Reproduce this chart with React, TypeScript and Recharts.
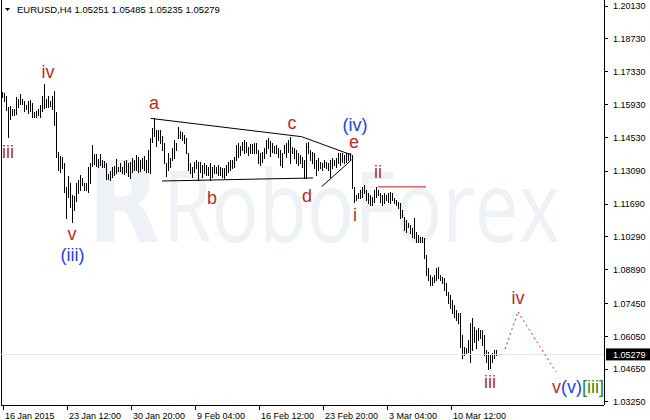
import React from 'react';
import { ComposedChart, Bar, XAxis, YAxis, ReferenceLine, ReferenceDot } from 'recharts';

// EURUSD H4 bars (high / low per bar)
const barHigh = [
  1.1646, 1.1642, 1.1629, 1.1582, 1.1586, 1.1574, 1.1574, 1.1625, 1.1616, 1.1638, 1.1616, 1.1608, 1.1591, 1.1608, 1.1612, 1.1599,
  1.1561, 1.1566, 1.1574, 1.1591, 1.1629, 1.1681, 1.1616, 1.1629, 1.1608, 1.1629, 1.1651, 1.1561, 1.1391, 1.1374, 1.1369, 1.1344,
  1.1242, 1.1288, 1.1259, 1.1208, 1.1203, 1.1259, 1.1271, 1.1293, 1.1280, 1.1259, 1.1259, 1.1327, 1.1344, 1.1421, 1.1382, 1.1382,
  1.1361, 1.1382, 1.1357, 1.1353, 1.1344, 1.1297, 1.1310, 1.1327, 1.1331, 1.1361, 1.1327, 1.1344, 1.1327, 1.1353, 1.1357, 1.1344,
  1.1348, 1.1365, 1.1357, 1.1378, 1.1369, 1.1357, 1.1365, 1.1374, 1.1357, 1.1399, 1.1451, 1.1494, 1.1536, 1.1485, 1.1485, 1.1485,
  1.1459, 1.1429, 1.1344, 1.1386, 1.1365, 1.1408, 1.1442, 1.1429, 1.1498, 1.1481, 1.1476, 1.1464, 1.1451, 1.1386, 1.1344, 1.1327,
  1.1348, 1.1357, 1.1348, 1.1348, 1.1336, 1.1344, 1.1336, 1.1327, 1.1344, 1.1327, 1.1336, 1.1327, 1.1336, 1.1327, 1.1322, 1.1322,
  1.1336, 1.1348, 1.1357, 1.1357, 1.1369, 1.1421, 1.1429, 1.1416, 1.1433, 1.1442, 1.1433, 1.1412, 1.1425, 1.1425, 1.1429, 1.1429,
  1.1399, 1.1386, 1.1391, 1.1408, 1.1442, 1.1451, 1.1438, 1.1429, 1.1416, 1.1421, 1.1408, 1.1399, 1.1386, 1.1421, 1.1429, 1.1442,
  1.1455, 1.1412, 1.1408, 1.1399, 1.1386, 1.1378, 1.1369, 1.1357, 1.1429, 1.1433, 1.1399, 1.1391, 1.1386, 1.1357, 1.1365, 1.1348,
  1.1344, 1.1357, 1.1348, 1.1344, 1.1357, 1.1365, 1.1357, 1.1365, 1.1386, 1.1386, 1.1386, 1.1378, 1.1386, 1.1386, 1.1386, 1.1378,
  1.1242, 1.1208, 1.1216, 1.1229, 1.1242, 1.1250, 1.1229, 1.1216, 1.1208, 1.1199, 1.1229, 1.1242, 1.1229, 1.1216, 1.1208, 1.1216,
  1.1208, 1.1216, 1.1220, 1.1216, 1.1195, 1.1186, 1.1178, 1.1173, 1.1144, 1.1114, 1.1101, 1.1088, 1.1080, 1.1067, 1.1110, 1.1050,
  1.1037, 1.1029, 1.1029, 1.1024, 1.0952, 1.0897, 1.0867, 1.0858, 1.0867, 1.0897, 1.0901, 1.0867, 1.0858, 1.0854, 1.0833, 1.0794,
  1.0782, 1.0760, 1.0739, 1.0717, 1.0705, 1.0705, 1.0611, 1.0560, 1.0556, 1.0589, 1.0662, 1.0684, 1.0645, 1.0632, 1.0641, 1.0632,
  1.0632, 1.0611, 1.0547, 1.0539, 1.0526, 1.0534, 1.0547, 1.05485,
];
const barLow = [
  1.1625, 1.1608, 1.1570, 1.1455, 1.1531, 1.1549, 1.1549, 1.1553, 1.1582, 1.1595, 1.1595, 1.1566, 1.1574, 1.1557, 1.1566, 1.1540,
  1.1540, 1.1540, 1.1549, 1.1540, 1.1566, 1.1578, 1.1582, 1.1582, 1.1586, 1.1574, 1.1506, 1.1369, 1.1314, 1.1305, 1.1322, 1.1220,
  1.1110, 1.1199, 1.1156, 1.1092, 1.1144, 1.1182, 1.1216, 1.1229, 1.1250, 1.1229, 1.1229, 1.1220, 1.1259, 1.1331, 1.1340, 1.1331,
  1.1327, 1.1336, 1.1327, 1.1327, 1.1276, 1.1276, 1.1271, 1.1284, 1.1293, 1.1301, 1.1310, 1.1310, 1.1301, 1.1297, 1.1305, 1.1288,
  1.1280, 1.1305, 1.1314, 1.1314, 1.1305, 1.1310, 1.1322, 1.1314, 1.1305, 1.1305, 1.1301, 1.1433, 1.1459, 1.1416, 1.1442, 1.1429,
  1.1399, 1.1344, 1.1288, 1.1314, 1.1327, 1.1357, 1.1365, 1.1399, 1.1451, 1.1451, 1.1442, 1.1429, 1.1386, 1.1314, 1.1301, 1.1284,
  1.1305, 1.1322, 1.1271, 1.1305, 1.1284, 1.1301, 1.1293, 1.1293, 1.1271, 1.1284, 1.1301, 1.1301, 1.1293, 1.1293, 1.1284, 1.1280,
  1.1293, 1.1305, 1.1314, 1.1322, 1.1327, 1.1357, 1.1369, 1.1378, 1.1399, 1.1386, 1.1391, 1.1378, 1.1386, 1.1386, 1.1386, 1.1386,
  1.1344, 1.1336, 1.1348, 1.1365, 1.1386, 1.1408, 1.1374, 1.1391, 1.1386, 1.1386, 1.1369, 1.1336, 1.1327, 1.1386, 1.1369, 1.1391,
  1.1344, 1.1386, 1.1365, 1.1344, 1.1336, 1.1344, 1.1327, 1.1280, 1.1280, 1.1386, 1.1357, 1.1344, 1.1322, 1.1293, 1.1314, 1.1322,
  1.1314, 1.1327, 1.1322, 1.1314, 1.1284, 1.1322, 1.1336, 1.1327, 1.1344, 1.1336, 1.1348, 1.1344, 1.1348, 1.1357, 1.1357, 1.1237,
  1.1178, 1.1186, 1.1195, 1.1195, 1.1199, 1.1216, 1.1186, 1.1173, 1.1165, 1.1165, 1.1178, 1.1199, 1.1208, 1.1178, 1.1165, 1.1173,
  1.1186, 1.1178, 1.1173, 1.1186, 1.1173, 1.1165, 1.1152, 1.1110, 1.1114, 1.1058, 1.1050, 1.1071, 1.1046, 1.1029, 1.1024, 1.1007,
  1.1007, 1.1007, 1.1007, 1.0939, 1.0867, 1.0845, 1.0824, 1.0824, 1.0837, 1.0845, 1.0854, 1.0845, 1.0833, 1.0803, 1.0782, 1.0747,
  1.0726, 1.0705, 1.0688, 1.0675, 1.0662, 1.0560, 1.0513, 1.0526, 1.0534, 1.0539, 1.0496, 1.0547, 1.0581, 1.0556, 1.0589, 1.0598,
  1.0568, 1.0526, 1.0496, 1.0466, 1.0470, 1.0496, 1.0513, 1.05235,
];
const lastBar = { open: 1.05251, high: 1.05485, low: 1.05235, close: 1.05279 };

const xTickBars = [0, 32, 64, 96, 128, 160, 192, 224];
const xTickLabels = ['16 Jan 2015', '23 Jan 12:00', '30 Jan 20:00', '9 Feb 04:00', '16 Feb 12:00', '23 Feb 20:00', '3 Mar 04:00', '10 Mar 12:00'];
const priceTicks = [1.2013, 1.1873, 1.1733, 1.1593, 1.1453, 1.1309, 1.1169, 1.1029, 1.0889, 1.0745, 1.0605, 1.0465, 1.0325];

// wave marks: bar index and price where each label sits
const waveLabels = [
  { text: 'iv', bar: 22.5, price: 1.1732, kind: 'minor' },
  { text: 'iii', bar: 2.5, price: 1.1391, kind: 'minor' },
  { text: 'v', bar: 34.5, price: 1.1041, kind: 'minor' },
  { text: '(iii)', bar: 34.75, price: 1.0952, kind: 'inter' },
  { text: 'a', bar: 75.5, price: 1.16, kind: 'corr' },
  { text: 'b', bar: 104.5, price: 1.1195, kind: 'corr' },
  { text: 'c', bar: 144.5, price: 1.1514, kind: 'corr' },
  { text: 'd', bar: 152, price: 1.1203, kind: 'corr' },
  { text: 'e', bar: 175.5, price: 1.1433, kind: 'corr' },
  { text: '(iv)', bar: 176, price: 1.1506, kind: 'inter' },
  { text: 'i', bar: 176, price: 1.1122, kind: 'minor' },
  { text: 'ii', bar: 187.5, price: 1.1306, kind: 'minor' },
  { text: 'iii', bar: 243.5, price: 1.041, kind: 'minor' },
  { text: 'iv', bar: 257.5, price: 1.0768, kind: 'minor' },
];
const targetLabel = { parts: [['v', 'minor'], ['(v)', 'inter'], ['[iii]', 'major']], bar: 287.5, price: 1.0389 };

// triangle sides and the wave ii level
const trendLines = [
  { from: [73.8, 1.1534], to: [149.3, 1.1456], kind: 'line' },
  { from: [149.3, 1.1456], to: [174.3, 1.1378], kind: 'line' },
  { from: [79.5, 1.1267], to: [155, 1.128], kind: 'line' },
  { from: [159.3, 1.1243], to: [174.3, 1.1357], kind: 'line' },
  { from: [187.5, 1.1242], to: [211.5, 1.1242], kind: 'level' },
];
// projected path iii -> iv -> v
const projection = [
  { bar: 251, price: 1.0551 },
  { bar: 257.5, price: 1.0709 },
  { bar: 276.5, price: 1.0453 },
];

const FONT = '"Liberation Sans", Arial, sans-serif';
const colors: Record<string, string> = {
  minor: '#b0302c',
  corr: '#c0281c',
  inter: '#2040f0',
  major: '#2a8a1a',
  line: '#000000',
  level: '#cc1010',
};

const data = barHigh.map((h, i) => ({ i, range: [barLow[i], h] }));

const BarLine = (props: any) => {
  const { x, y, width, height } = props;
  const cx = Math.floor(x + width / 2) + 0.5;
  return <line x1={cx} x2={cx} y1={Math.round(y)} y2={Math.round(y + height) + 1} stroke="#000" strokeWidth={1} shapeRendering="crispEdges" />;
};

const XTick = (props: any) => {
  const { x, y, payload } = props;
  const label = xTickLabels[xTickBars.indexOf(payload.value)];
  return (
    <text x={x + 2} y={y + 7} fontSize={9} fontFamily={FONT} fill="#000" textAnchor="start">
      {label}
    </text>
  );
};

const PriceTag = (props: any) => {
  const vb = props.viewBox;
  if (!vb) return null;
  const left = vb.x + vb.width + 2;
  return (
    <g>
      <rect x={left} y={vb.y - 6} width={650 - left} height={12} fill="#000" />
      <text x={left + 7} y={vb.y} dy="0.35em" fontSize={9} fontFamily={FONT} fill="#fff">
        {lastBar.close.toFixed(5)}
      </text>
    </g>
  );
};

const App = () => {
  return (
    <div style={{ position: 'absolute', left: 0, top: 0, width: 650, height: 420, background: '#fff' }}>
      <svg width={650} height={420} style={{ position: 'absolute', left: 0, top: 0 }}>
        <text x={88} y={242} fontSize={112} fontWeight={700} fontFamily='"DejaVu Sans", sans-serif' fill="#eef1f5" textLength={72} lengthAdjust="spacingAndGlyphs">
          R
        </text>
        <text x={163} y={242} fontSize={98} fontFamily='"Open Sans", sans-serif' fill="#eef1f5" textLength={397} lengthAdjust="spacingAndGlyphs">
          RoboForex
        </text>
        <line x1={1.5} x2={1.5} y1={0} y2={405} stroke="#000" />
        <polygon points="5,8 10,8 7.5,11" fill="#000" />
        <text x={17} y={13} fontSize={9.5} fontFamily={FONT} fill="#000">
          {`EURUSD,H4  ${lastBar.open.toFixed(5)} ${lastBar.high.toFixed(5)} ${lastBar.low.toFixed(5)} ${lastBar.close.toFixed(5)}`}
        </text>
      </svg>
      <div style={{ position: 'absolute', left: 0, top: 0 }}>
        <ComposedChart width={650} height={420} data={data} margin={{ top: 0, right: 0, bottom: 0, left: 1 }}>
          <XAxis
            type="number"
            dataKey="i"
            domain={[-1, 300.5]}
            allowDataOverflow
            ticks={xTickBars}
            interval={0}
            tick={XTick}
            tickSize={5}
            height={15}
            axisLine={{ stroke: '#000', shapeRendering: 'crispEdges' }}
            tickLine={{ stroke: '#000', shapeRendering: 'crispEdges' }}
          />
          <YAxis
            orientation="right"
            type="number"
            domain={[1.03122, 1.20386]}
            allowDataOverflow
            ticks={priceTicks}
            interval={0}
            width={46}
            tickSize={4}
            tickMargin={5}
            tickFormatter={(v: number) => v.toFixed(5)}
            tick={{ fontSize: 9, fill: '#000', fontFamily: FONT, textAnchor: 'start' }}
            axisLine={{ stroke: '#000', shapeRendering: 'crispEdges' }}
            tickLine={{ stroke: '#000', shapeRendering: 'crispEdges' }}
          />
          <ReferenceLine y={lastBar.close} stroke="#e6e6e6" label={(p: any) => <PriceTag {...p} />} />
          <Bar dataKey="range" barSize={1} isAnimationActive={false} shape={BarLine} />
          {trendLines.map((l, k) => (
            <ReferenceLine
              key={'t' + k}
              segment={[{ x: l.from[0], y: l.from[1] }, { x: l.to[0], y: l.to[1] }]}
              stroke={colors[l.kind]}
              strokeWidth={1}
            />
          ))}
          {projection.slice(1).map((p, k) => (
            <ReferenceLine
              key={'p' + k}
              segment={[{ x: projection[k].bar, y: projection[k].price }, { x: p.bar, y: p.price }]}
              stroke="#e02020"
              strokeDasharray="2 3"
            />
          ))}
          {waveLabels.map((w, k) => (
            <ReferenceDot
              key={'w' + k}
              x={w.bar}
              y={w.price}
              r={0}
              shape={(p: any) => (
                <text x={p.cx} y={p.cy} fontSize={18} fontFamily={FONT} fill={colors[w.kind]} textAnchor="middle" dominantBaseline="central">
                  {w.text}
                </text>
              )}
            />
          ))}
          <ReferenceDot
            x={targetLabel.bar}
            y={targetLabel.price}
            r={0}
            shape={(p: any) => (
              <text x={p.cx} y={p.cy} fontSize={18} fontFamily={FONT} textAnchor="middle" dominantBaseline="central">
                {targetLabel.parts.map(([t, kind], k) => (
                  <tspan key={k} fill={colors[kind]}>
                    {t}
                  </tspan>
                ))}
              </text>
            )}
          />
        </ComposedChart>
      </div>
    </div>
  );
};

export default App;
